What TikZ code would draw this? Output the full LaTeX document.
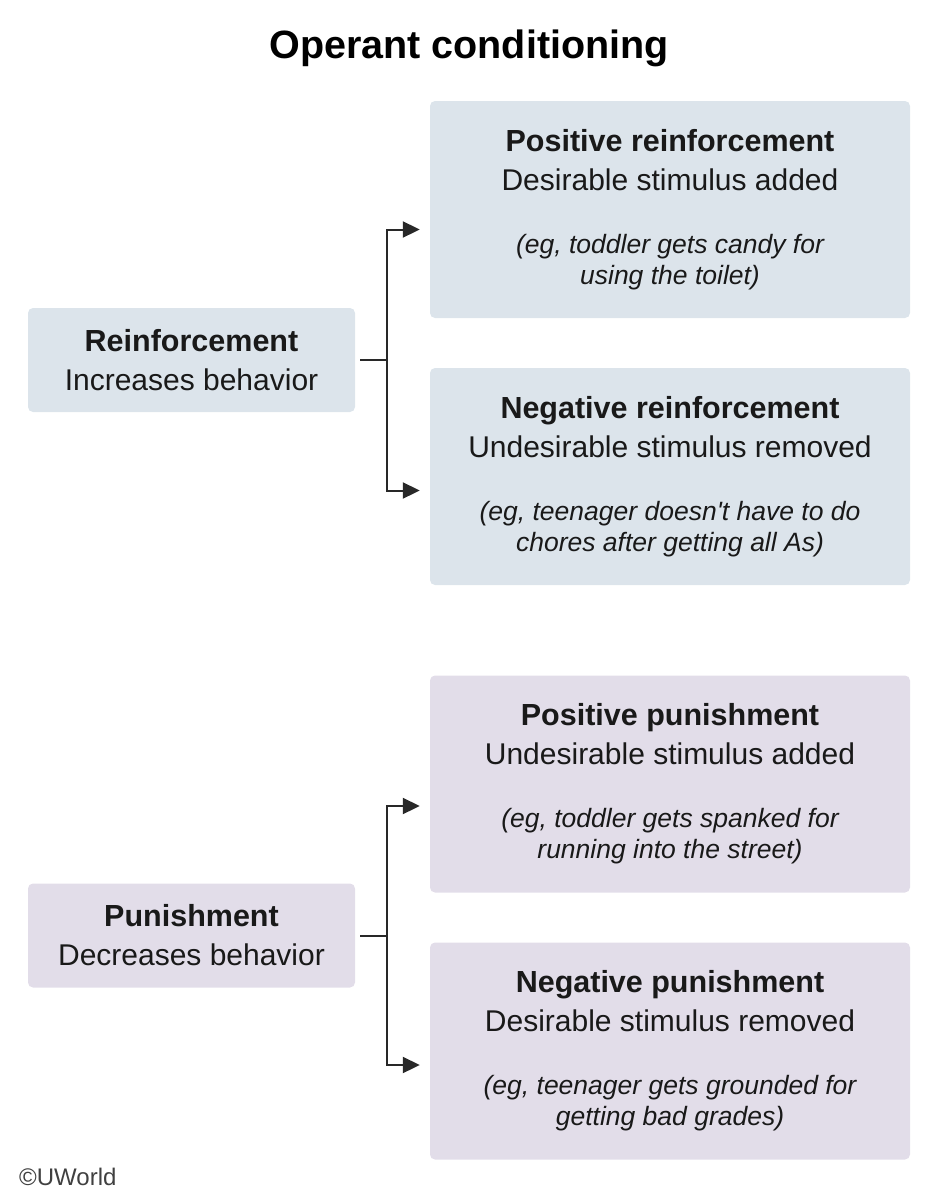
\documentclass[tikz,border=0pt]{standalone}
\usepackage{fontspec}
\setmainfont{Liberation Sans}[Ligatures=TeXOff]
\usepackage{xcolor}
\usepackage{tikz}
\usetikzlibrary{positioning, arrows.meta, calc}

\definecolor{reinfblue}{RGB}{220,228,235}
\definecolor{punishlilac}{RGB}{226,221,233}
\definecolor{linkgray}{RGB}{40,40,40}

\newcommand{\exfont}{\fontsize{26.5}{31}\selectfont\itshape}
\newcommand{\headfont}{\fontsize{30.5}{39}\selectfont\bfseries}

\begin{document}
\begin{tikzpicture}[x=1pt, y=-1pt,
    mainbox/.style={rounded corners=5pt, inner sep=0pt, align=center, text=black!90,
      font=\fontsize{30}{39}\selectfont},
    smallbox/.style={mainbox, minimum width=327pt, minimum height=104pt},
    bigbox/.style={mainbox, minimum width=480pt, minimum height=217pt},
    link/.style={draw=linkgray, line width=2pt},
    linkarrow/.style={link, -{Triangle[length=17pt,width=16pt]}, shorten >=10pt}]

    \useasboundingbox (0,0) rectangle (940,1200);

    % Title
    \node (title) at (469,48) {\fontsize{39.5}{44}\selectfont\bfseries Operant conditioning};

    % Reinforcement branch
    \node[smallbox, fill=reinfblue] (reinf) at (191.5,360) {{\headfont Reinforcement}\\Increases behavior};
    \node[bigbox, fill=reinfblue] (posr) at (670,209.5) {{\headfont Positive reinforcement}\\Desirable stimulus added\\[24pt]
      {\exfont (eg, toddler gets candy for}\\[-8pt]{\exfont using the toilet)}};
    \node[bigbox, fill=reinfblue] (negr) at (670,476.5) {{\headfont Negative reinforcement}\\Undesirable stimulus removed\\[24pt]
      {\exfont (eg, teenager doesn't have to do}\\[-8pt]{\exfont chores after getting all As)}};

    \draw[link, shorten <=5pt] (reinf.east) -- ++(32,0) coordinate (rfork);
    \draw[linkarrow] (rfork) |- ([yshift=-20pt]posr.west);
    \draw[linkarrow] (rfork) |- ([yshift=-14pt]negr.west);

    % Punishment branch
    \node[smallbox, fill=punishlilac] (pun) at (191.5,935.5) {{\headfont Punishment}\\Decreases behavior};
    \node[bigbox, fill=punishlilac] (posp) at (670,784) {{\headfont Positive punishment}\\Undesirable stimulus added\\[24pt]
      {\exfont (eg, toddler gets spanked for}\\[-8pt]{\exfont running into the street)}};
    \node[bigbox, fill=punishlilac] (negp) at (670,1051) {{\headfont Negative punishment}\\Desirable stimulus removed\\[24pt]
      {\exfont (eg, teenager gets grounded for}\\[-8pt]{\exfont getting bad grades)}};

    \draw[link, shorten <=5pt] (pun.east) -- ++(32,0) coordinate (pfork);
    \draw[linkarrow] (pfork) |- ([yshift=-22pt]posp.west);
    \draw[linkarrow] (pfork) |- ([yshift=-14pt]negp.west);

    \node[anchor=west, inner sep=0pt, text=black!75, font=\fontsize{24}{26}\selectfont] (copy) at (19,1177) {©UWorld};
\end{tikzpicture}
\end{document}
